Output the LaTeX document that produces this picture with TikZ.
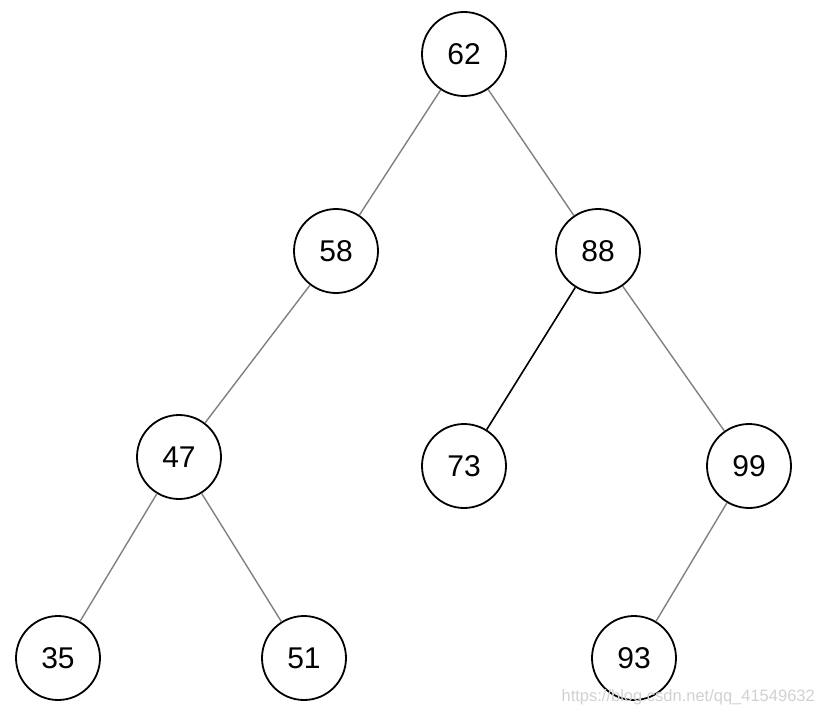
\documentclass[tikz,border=0pt]{standalone}
\usepackage{fontspec}
\setmainfont{Liberation Sans}
\begin{document}
\begin{tikzpicture}[x=1pt,y=-1pt,
  tnode/.style={circle,draw=black,line width=1.8pt,minimum size=84pt,inner sep=0pt,font=\fontsize{30}{32}\selectfont},
  edge/.style={draw=black!50,line width=1.4pt},
  edgeb/.style={draw=black,line width=1.6pt}]
\useasboundingbox (0,0) rectangle (824,714);
\node[tnode] (n62) at (464,54) {62};
\node[tnode] (n58) at (336,251) {58};
\node[tnode] (n88) at (598,251) {88};
\node[tnode] (n47) at (179,457) {47};
\node[tnode] (n73) at (464,466) {73};
\node[tnode] (n99) at (749,466) {99};
\node[tnode] (n35) at (58,658) {35};
\node[tnode] (n51) at (304,658) {51};
\node[tnode] (n93) at (634,658) {93};
\draw[edge] (n62) -- (n58);
\draw[edge] (n62) -- (n88);
\draw[edge] (n58) -- (n47);
\draw[edgeb] (n88) -- (n73);
\draw[edge] (n88) -- (n99);
\draw[edge] (n47) -- (n35);
\draw[edge] (n47) -- (n51);
\draw[edge] (n99) -- (n93);
\node[anchor=base east,text=black!18,font=\fontsize{16.5}{18}\selectfont,inner sep=0pt] (wm) at (815,701) {https://blog.csdn.net/qq\_41549632};
\end{tikzpicture}
\end{document}
